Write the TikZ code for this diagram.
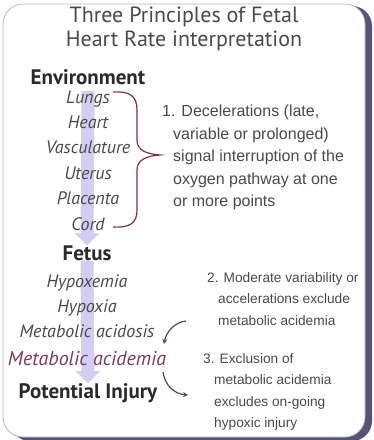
\documentclass[tikz,border=0pt]{standalone}
\usepackage{fontspec}
\setmainfont{PT Sans}
\newfontfamily\notefont{Liberation Sans}
\usetikzlibrary{positioning,arrows.meta,backgrounds}
\definecolor{ink}{HTML}{2A2A2A}
\definecolor{soft}{HTML}{4A4A4A}
\definecolor{braceclr}{HTML}{7A3344}
\definecolor{acid}{HTML}{7E3A62}
\definecolor{lav}{HTML}{D2CDF2}
\definecolor{shade}{HTML}{55557A}
\definecolor{rim}{HTML}{B8B8B8}
\definecolor{curveclr}{HTML}{5A474F}
\newcommand{\hang}{\hspace*{11pt}}
\tikzset{
  head/.style={font=\fontsize{21}{23}\selectfont\bfseries, text=ink, inner sep=0pt},
  item/.style={font=\fontsize{18}{20}\selectfont\itshape, text=soft, inner sep=0pt,
               text height=12pt, text depth=4pt},
  note/.style={font=\notefont\fontsize{13.7}{21.5}\selectfont, text=soft, align=left, inner sep=0pt},
  band/.style={-{Triangle[width=24pt,length=12pt]}, line width=13pt, draw=lav},
  hook/.style={-{Stealth[length=5pt,width=5pt]}, line width=1.2pt, draw=curveclr},
  frame/.style={draw=rim, fill=white, rounded corners=20pt, line width=0.8pt},
}

\begin{document}
\begin{tikzpicture}[x=1pt, y=-1pt, node distance=9pt]
  \useasboundingbox (0,0) rectangle (373,440);
  \node[font=\fontsize{22}{24}\selectfont, text=soft, align=center, inner sep=0pt] (title) at (184,29)
    {Three Principles of Fetal\\Heart Rate interpretation};

  % environment
  \node[head] (env) at (88,77) {Environment};
  \node[item] (lungs) at (88,99) {Lungs};
  \node[item, below=of lungs] (heart) {Heart};
  \node[item, below=of heart] (vasc) {Vasculature};
  \node[item, below=of vasc] (uterus) {Uterus};
  \node[item, below=of uterus] (placenta) {Placenta};
  \node[item, below=of placenta] (cord) {Cord};

  % fetus
  \node[head] (fetus) at (87,253) {Fetus};
  \node[item] (hypoxemia) at (87,283) {Hypoxemia};
  \node[item, below=of hypoxemia] (hypoxia) {Hypoxia};
  \node[item, below=of hypoxia] (acidosis) {Metabolic acidosis};
  \node[item, font=\fontsize{20}{22}\selectfont\itshape, text=acid, below=11pt of acidosis] (acidemia)
    {Metabolic acidemia};
  \node[head] (injury) at (88,393) {Potential Injury};

  % principles
  \node[note, font=\notefont\fontsize{16}{22.5}\selectfont, anchor=north west] (p1) at (162,105)
    {1. Decelerations (late,\\
    \hang variable or prolonged)\\
    \hang signal interruption of the\\
    \hang oxygen pathway at one\\
    \hang or more points};
  \node[note, anchor=north west] (p2) at (207,272) {2. Moderate variability or\\
    \hang accelerations exclude\\
    \hang metabolic acidemia};
  \node[note, anchor=north west] (p3) at (203,353) {3. Exclusion of\\
    \hang metabolic acidemia\\
    \hang excludes on-going\\
    \hang hypoxic injury};

  \draw[braceclr, line width=1.2pt] (113,92) .. controls (130,91) and (137,96) .. (137,110)
    -- (137,140) .. controls (137,150) and (146,154) .. (160,155)
    .. controls (146,156) and (137,160) .. (137,170)
    -- (137,210) .. controls (137,223) and (130,228) .. (113,227);

  \coordinate (c2a) at (186,321);
  \coordinate (c2b) at (164,344);
  \coordinate (c3a) at (163,372);
  \coordinate (c3b) at (188,395);
  \draw[hook] (c2a) .. controls (175,322) and (166,332) .. (c2b);
  \draw[hook] (c3a) .. controls (165,386) and (175,394) .. (c3b);

  \begin{scope}[on background layer]
    \path[frame, draw=none, fill=shade] (10,6) rectangle (372,441);
    \path[frame] (3,4) rectangle (365,437);
    \draw[band] (lungs.north) -- (fetus.north);
    \draw[band] (fetus.south) -- (injury.north);
  \end{scope}
\end{tikzpicture}
\end{document}
